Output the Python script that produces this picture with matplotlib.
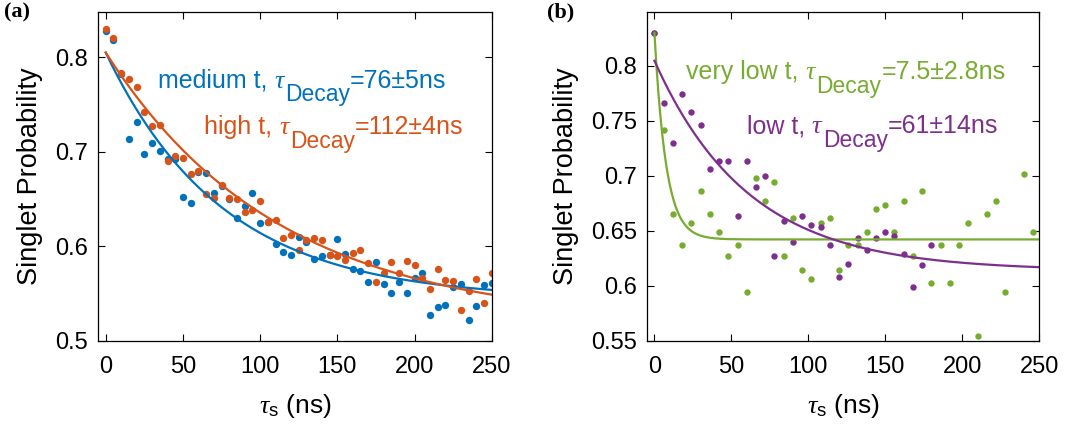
import numpy as np
import matplotlib
matplotlib.use("Agg")
import matplotlib.pyplot as plt

plt.rcParams["font.family"] = ["Liberation Sans", "DejaVu Sans"]
plt.rcParams["mathtext.fontset"] = "custom"
plt.rcParams["mathtext.rm"] = "Liberation Sans"
plt.rcParams["mathtext.it"] = "Liberation Serif:italic"

BLUE = "#0072BD"
ORANGE = "#D95319"
GREEN = "#77AC30"
PURPLE = "#7E2F8E"

# ---- panel (a) data: tau_s sampled every 5 ns ----
t_a = np.arange(0, 251, 5)
medium_t = [0.828, 0.818, 0.782, 0.714, 0.732, 0.698, 0.709, 0.701, 0.692, 0.692,
            0.652, 0.646, 0.679, 0.678, 0.656, 0.664, 0.650, 0.630, 0.643, 0.656,
            0.625, 0.626, 0.603, 0.594, 0.591, 0.610, 0.605, 0.587, 0.590, 0.591,
            0.608, 0.592, 0.576, 0.574, 0.562, 0.5835, 0.560, 0.551, 0.562, 0.551,
            0.567, 0.572, 0.528, 0.536, 0.538, 0.5575, 0.560, 0.522, 0.537, 0.559,
            0.561]
high_t = [0.830, 0.820, 0.7835, 0.777, 0.769, 0.742, 0.727, 0.728, 0.690, 0.696,
          0.694, 0.677, 0.680, 0.655, 0.651, 0.665, 0.651, 0.650, 0.636, 0.639,
          0.648, 0.626, 0.628, 0.609, 0.612, 0.596, 0.607, 0.609, 0.607, 0.591,
          0.590, 0.586, 0.593, 0.596, 0.583, 0.562, 0.572, 0.584, 0.572, 0.585,
          0.580, 0.567, 0.555, 0.576, 0.565, 0.563, 0.5325, 0.553, 0.566, 0.540,
          0.572]

# fit parameters (offset, amplitude, tau in ns)
fit_medium = (0.5443, 0.2607, 76.0)
fit_high = (0.5182, 0.2868, 112.0)

# ---- panel (b) data: tau_s sampled every 6 ns ----
t_vlow = [0, 6, 12, 18, 24, 30, 36, 42, 48, 54, 60, 66, 72, 78, 84, 90, 96, 102,
          108, 114, 120, 126, 132, 138, 144, 150, 156, 162, 168, 174, 180, 186,
          192, 198, 204, 210, 216, 222, 228, 240, 246]
very_low_t = [0.830, 0.742, 0.6655, 0.637, 0.657, 0.686, 0.6655, 0.649, 0.627,
              0.637, 0.594, 0.698, 0.677, 0.694, 0.627, 0.6615, 0.6145, 0.606,
              0.657, 0.6615, 0.6145, 0.637, 0.637, 0.649, 0.6695, 0.673, 0.649,
              0.677, 0.627, 0.686, 0.6025, 0.637, 0.6025, 0.637, 0.657, 0.5545,
              0.6655, 0.677, 0.594, 0.7015, 0.649]
t_low = np.arange(0, 181, 6)
low_t = [0.830, 0.766, 0.730, 0.774, 0.758, 0.746, 0.706, 0.7136, 0.7136, 0.663,
         0.7136, 0.6897, 0.6995, 0.627, 0.659, 0.6395, 0.663, 0.6555, 0.6534,
         0.637, 0.608, 0.620, 0.643, 0.632, 0.643, 0.649, 0.645, 0.6285, 0.5985,
         0.6185, 0.637]

fit_vlow = (0.642, 0.188, 7.5)
fit_low = (0.6136, 0.191, 61.0)

labels_a = [("medium t, ", "=76\u00b15ns"), ("high t, ", "=112\u00b14ns")]
labels_b = [("very low t, ", "=7.5\u00b12.8ns"), ("low t, ", "=61\u00b114ns")]


def decay(p, t):
    c, a, tau = p
    return c + a * np.exp(-t / tau)


def tau_label(ax, x, y, head, tail, color, size=18):
    # "head τ_Decay tail" with a large subscript, pieces chained left to right
    t1 = ax.text(x, y, head, color=color, fontsize=size, va="baseline")
    t2 = ax.annotate("\u03c4", xy=(1, y), xycoords=(t1, "data"), color=color,
                     fontsize=size + 1, family="Liberation Serif", style="italic",
                     va="baseline", ha="left")
    t3 = ax.annotate("Decay", xy=(1, y), xycoords=(t2, "data"),
                     xytext=(1, -9.5), textcoords="offset points",
                     color=color, fontsize=size - 1.5, va="baseline", ha="left")
    ax.annotate(tail, xy=(1, y), xycoords=(t3, "data"), color=color,
                fontsize=size, va="baseline", ha="left")


fig = plt.figure(figsize=(10.69, 4.33), dpi=100)
ax_a = fig.add_axes([0.0917, 0.2125, 0.369, 0.760])
ax_b = fig.add_axes([0.605, 0.2135, 0.367, 0.759])

tt = np.linspace(0, 250, 400)

ax_a.plot(t_a, medium_t, "o", color=BLUE, ms=5.3, mec="none")
ax_a.plot(t_a, high_t, "o", color=ORANGE, ms=5.3, mec="none")
ax_a.plot(tt, decay(fit_medium, tt), color=BLUE, lw=1.6)
ax_a.plot(tt, decay(fit_high, tt), color=ORANGE, lw=1.6)
ax_a.set_xlim(-5, 250.5)
ax_a.set_ylim(0.5, 0.848)
ax_a.set_xticks([0, 50, 100, 150, 200, 250])
ax_a.set_yticks([0.5, 0.6, 0.7, 0.8])
ax_a.set_yticklabels(["0.5", "0.6", "0.7", "0.8"])
tau_label(ax_a, 33.6, 0.7677, *labels_a[0], BLUE)
tau_label(ax_a, 63.6, 0.7185, *labels_a[1], ORANGE)

ax_b.plot(t_vlow, very_low_t, "o", color=GREEN, ms=4.6, mec="none")
ax_b.plot(t_low, low_t, "o", color=PURPLE, ms=4.6, mec="none")
ax_b.plot(tt, decay(fit_vlow, tt), color=GREEN, lw=1.6)
ax_b.plot(tt, decay(fit_low, tt), color=PURPLE, lw=1.6)
ax_b.set_xlim(-5, 250)
ax_b.set_ylim(0.55, 0.849)
ax_b.set_xticks([0, 50, 100, 150, 200, 250])
ax_b.set_yticks([0.55, 0.6, 0.65, 0.7, 0.75, 0.8])
ax_b.set_yticklabels(["0.55", "0.6", "0.65", "0.7", "0.75", "0.8"])
tau_label(ax_b, 20.6, 0.7876, *labels_b[0], GREEN)
tau_label(ax_b, 60, 0.7385, *labels_b[1], PURPLE)

for ax in (ax_a, ax_b):
    ax.tick_params(direction="in", length=5, width=0.8, top=True, right=True,
                   labelsize=17)
    ax.tick_params(axis="y", pad=7)
    ax.tick_params(axis="x", pad=11)
    for s in ax.spines.values():
        s.set_linewidth(0.9)
    ax.set_xlabel(r"$\tau_{\mathrm{s}}$ (ns)", fontsize=19, labelpad=10)
    ax.set_ylabel("Singlet Probability", fontsize=19.5, labelpad=9)

fig.text(0.004, 0.995, "(a)", fontsize=16, fontweight="bold",
         family="Liberation Serif", va="top", ha="left")
fig.text(0.512, 0.995, "(b)", fontsize=16, fontweight="bold",
         family="Liberation Serif", va="top", ha="left")

fig.savefig("out.png", dpi=100)
